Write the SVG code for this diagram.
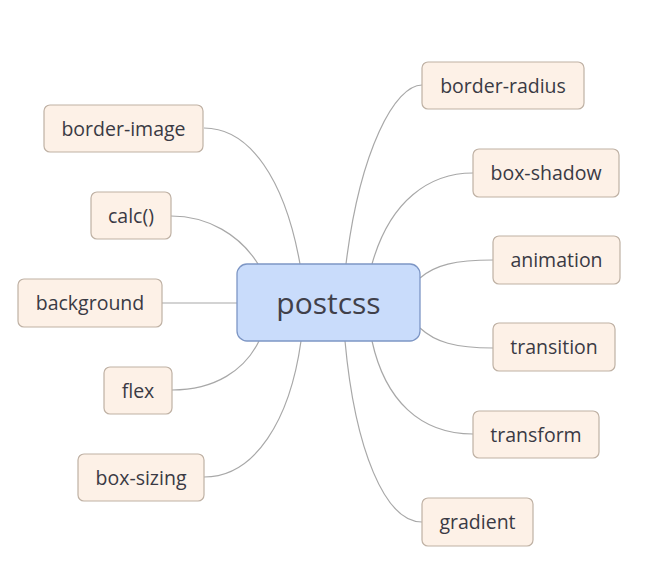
<svg xmlns="http://www.w3.org/2000/svg" width="650" height="584" viewBox="0 0 650 584">
<style>
.n rect{fill:#fdf1e7;stroke:#bfb1a4;stroke-width:1.2}
.n text{font-family:"Open Sans","Noto Sans",sans-serif;font-size:19.5px;fill:#3a3a44;text-anchor:middle;dominant-baseline:central}
#conn path{fill:none;stroke:#a8a8a8;stroke-width:1.2}
</style>
<rect width="650" height="584" fill="#ffffff"/>
<g id="conn">
<path d="M204,128 C250,128 285,180 300,264"/>
<path d="M171,216 C208,216 240,235 258,264"/>
<path d="M162,303 L237,303"/>
<path d="M172,390 C215,390 245,370 259,341"/>
<path d="M204,477 C255,477 290,420 301,341"/>
<path d="M422,85 C395,85 360,150 346,264"/>
<path d="M473,173 C430,173 390,200 372,264"/>
<path d="M493,260 C455,260 435,265 420,278"/>
<path d="M493,348 C455,348 435,342 420,328"/>
<path d="M473,434 C420,434 385,400 372,341"/>
<path d="M422,522 C385,522 355,450 345,341"/>
</g>
<g id="postcss">
<rect x="237" y="264" width="183" height="77" rx="10" fill="#c9dcfb" stroke="#7d96c5" stroke-width="1.3"/>
<text x="328.5" y="302" font-family="Open Sans,Noto Sans,sans-serif" font-size="30" fill="#40404a" text-anchor="middle" dominant-baseline="central">postcss</text>
</g>
<g id="border-image" class="n"><rect x="44" y="105" width="159" height="47" rx="6"/><text x="123.5" y="128">border-image</text></g>
<g id="calc" class="n"><rect x="91" y="192" width="80" height="47" rx="6"/><text x="131" y="215">calc()</text></g>
<g id="background" class="n"><rect x="18" y="279" width="144" height="48" rx="6"/><text x="90" y="302.5">background</text></g>
<g id="flex" class="n"><rect x="104" y="367" width="68" height="47" rx="6"/><text x="138" y="390">flex</text></g>
<g id="box-sizing" class="n"><rect x="78" y="454" width="126" height="47" rx="6"/><text x="141" y="477">box-sizing</text></g>
<g id="border-radius" class="n"><rect x="422" y="62" width="162" height="47" rx="6"/><text x="503" y="85">border-radius</text></g>
<g id="box-shadow" class="n"><rect x="473" y="149" width="146" height="48" rx="6"/><text x="546" y="172.5">box-shadow</text></g>
<g id="animation" class="n"><rect x="493" y="236" width="127" height="48" rx="6"/><text x="556.5" y="259.5">animation</text></g>
<g id="transition" class="n"><rect x="493" y="323" width="122" height="48" rx="6"/><text x="554" y="346.5">transition</text></g>
<g id="transform" class="n"><rect x="473" y="411" width="126" height="47" rx="6"/><text x="536" y="434">transform</text></g>
<g id="gradient" class="n"><rect x="422" y="498" width="111" height="48" rx="6"/><text x="477.5" y="521.5">gradient</text></g>
</svg>
